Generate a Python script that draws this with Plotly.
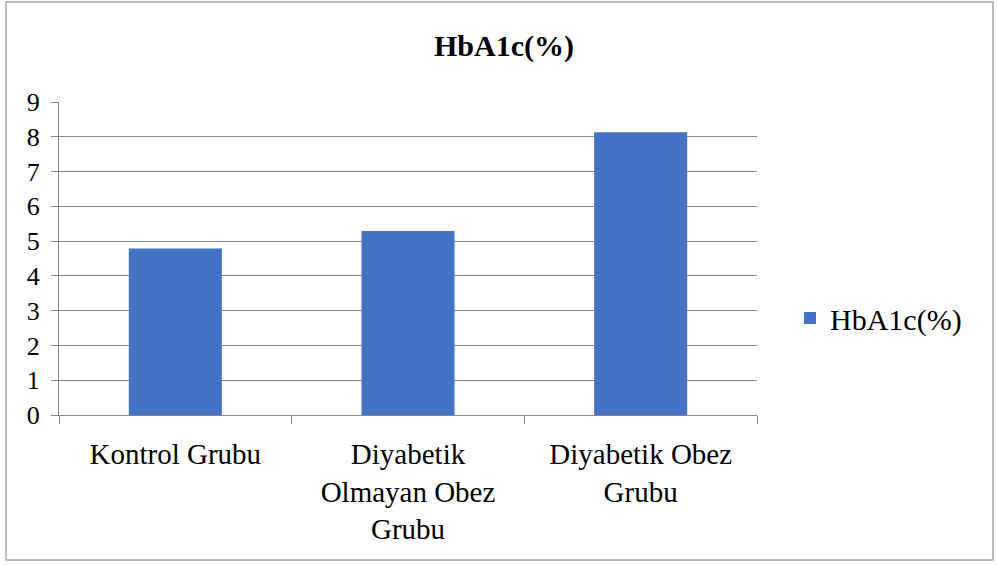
import plotly.graph_objects as go

categories = ["Kontrol Grubu", "Diyabetik<br>Olmayan Obez<br>Grubu", "Diyabetik Obez<br>Grubu"]
values = [4.79, 5.29, 8.13]
series_name = "HbA1c(%)"
title_text = "HbA1c(%)"
y_ticks = [0, 1, 2, 3, 4, 5, 6, 7, 8, 9]

W, H = 997, 565
L, R, T, B = 59, 240, 102, 150
pw, ph = W - L - R, H - T - B

def px_x(x):
    return (x - L) / pw

def px_y(y):
    return (H - B - y) / ph

font = "Liberation Serif"

fig = go.Figure()
fig.add_trace(go.Bar(x=categories, y=values, name=series_name,
                     marker=dict(color="#4472C4", line=dict(width=0)),
                     width=0.4))

fig.update_layout(
    width=W, height=H,
    margin=dict(l=L, r=R, t=T, b=B),
    paper_bgcolor="white", plot_bgcolor="white",
    font=dict(family=font, color="black"),
    showlegend=True,
    legend=dict(x=px_x(790), y=px_y(318), xanchor="left", yanchor="middle",
                font=dict(size=30, family=font), itemwidth=30,
                bgcolor="rgba(0,0,0,0)"),
    title=dict(text="<b>" + title_text + "</b>", x=px_x(504), xref="paper",
               y=1 - 45 / H, yref="container", yanchor="middle", xanchor="center",
               font=dict(size=30, family=font)),
    bargap=0.6,
    shapes=[dict(type="rect", xref="paper", yref="paper",
                 x0=px_x(6), x1=px_x(993), y0=px_y(560), y1=px_y(2),
                 line=dict(color="#A6A6A6", width=1.5), fillcolor="rgba(0,0,0,0)",
                 layer="below")],
)

fig.update_xaxes(type="category", tickson="boundaries", ticks="outside",
                 ticklen=8, tickcolor="#868686", showline=True, linecolor="#868686",
                 linewidth=1, showgrid=False, tickfont=dict(size=29, family=font),
                 ticklabelstandoff=13, fixedrange=True)
fig.update_yaxes(range=[0, 9], tickvals=y_ticks, ticks="outside", ticklen=7,
                 tickcolor="#868686", showline=True, linecolor="#868686",
                 gridcolor="#868686", gridwidth=1, zeroline=False,
                 tickfont=dict(size=26, family=font), ticklabelstandoff=6,
                 fixedrange=True)

fig.write_html("out.html", config={"displayModeBar": False},
               post_script="document.body.style.margin='0';")
